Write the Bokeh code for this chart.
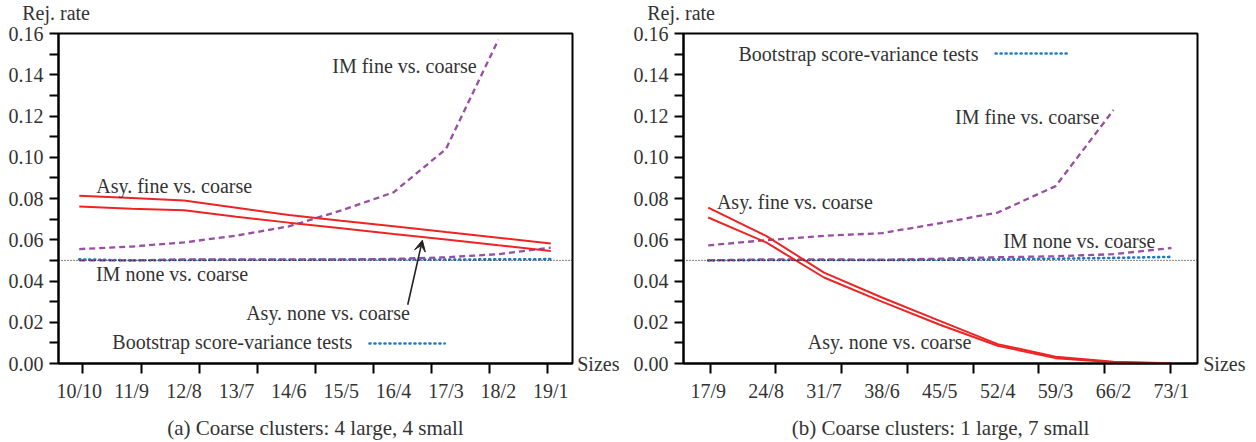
import math
from bokeh.plotting import figure
from bokeh.layouts import row
from bokeh.models import (Range1d, FixedTicker, LinearAxis, Label, Span, Arrow,
                          VeeHead, NumeralTickFormatter)
from bokeh.embed import file_html
from bokeh.resources import INLINE

NAN = float("nan")

# ---------------- data: panel (a) ----------------
sizes_a = ["10/10", "11/9", "12/8", "13/7", "14/6", "15/5", "16/4", "17/3", "18/2", "19/1"]
asy_fine_a = [0.0813, 0.0803, 0.0790, 0.0755, 0.0720, 0.0692, 0.0665, 0.0637, 0.0610, 0.0582]
asy_none_a = [0.0761, 0.0750, 0.0743, 0.0712, 0.0683, 0.0656, 0.0628, 0.0601, 0.0573, 0.0546]
im_fine_a = [0.0555, 0.0567, 0.0587, 0.0620, 0.0665, 0.0742, 0.0830, 0.1040, 0.1570, NAN]
im_none_a = [0.0500, 0.0500, 0.0505, 0.0505, 0.0505, 0.0505, 0.0507, 0.0515, 0.0530, 0.0562]
boot_a = [0.0505, 0.0500, 0.0502, 0.0503, 0.0503, 0.0504, 0.0504, 0.0504, 0.0505, 0.0506]

# ---------------- data: panel (b) ----------------
sizes_b = ["17/9", "24/8", "31/7", "38/6", "45/5", "52/4", "59/3", "66/2", "73/1"]
asy_fine_b = [0.0756, 0.0619, 0.0441, 0.0320, 0.0207, 0.0094, 0.0033, 0.0008, 0.0001]
asy_none_b = [0.0708, 0.0587, 0.0417, 0.0300, 0.0188, 0.0086, 0.0026, 0.0006, 0.0000]
im_fine_b = [0.0573, 0.0598, 0.0619, 0.0632, 0.0680, 0.0732, 0.0860, 0.1229, NAN]
im_none_b = [0.0500, 0.0505, 0.0505, 0.0503, 0.0508, 0.0515, 0.0520, 0.0530, 0.0560]
boot_b = [0.0500, 0.0502, 0.0502, 0.0502, 0.0503, 0.0505, 0.0508, 0.0512, 0.0517]

y_ticks = [0.00, 0.02, 0.04, 0.06, 0.08, 0.10, 0.12, 0.14, 0.16]
y_minor = [0.01, 0.03, 0.05, 0.07, 0.09, 0.11, 0.13, 0.15]

RED = "#ee2424"
PURPLE = "#984ea3"
BLUE = "#1f7ac6"
TXT = "#333333"
FONT = "Liberation Serif"
FS = "20px"
DOT = "1 4"


def lab(p, text, x, y, align="left"):
    p.add_layout(Label(x=x, y=y, text=text, text_font=FONT, text_font_size=FS,
                       text_color=TXT, text_baseline="middle", text_align=align))


def side_lab(p, text, cx, cy, side):
    p.add_layout(Label(x=cx, y=cy, x_units="canvas", y_units="canvas", text=text,
                       text_font=FONT, text_font_size=FS, text_color=TXT,
                       text_baseline="middle", text_align="left"), side)


def panel(sizes, afine, anone, ifine, inone, boot, caption, xr, tick_pos,
          mb_left, mb_right):
    n = len(sizes)
    xs = list(range(n))
    p = figure(width=628, height=442, output_backend="svg", toolbar_location=None,
               x_range=Range1d(*xr), y_range=Range1d(0, 0.16),
               min_border_left=mb_left, min_border_right=mb_right,
               min_border_top=33, min_border_bottom=79)
    p.xgrid.visible = False
    p.ygrid.visible = False
    p.outline_line_color = "black"
    p.outline_line_width = 2

    # y axis
    ya = p.yaxis[0]
    ya.ticker = FixedTicker(ticks=y_ticks, minor_ticks=y_minor)
    ya.formatter = NumeralTickFormatter(format="0.00")
    ya.axis_line_width = 2
    ya.major_tick_line_width = 2
    ya.minor_tick_line_width = 2
    ya.major_tick_out = 9
    ya.minor_tick_out = 9
    ya.major_tick_in = 0
    ya.minor_tick_in = 0
    ya.major_label_standoff = 6
    ya.major_label_text_font = FONT
    ya.major_label_text_font_size = FS
    ya.major_label_text_color = TXT

    # x axis: tick marks only
    xa = p.xaxis[0]
    xa.ticker = FixedTicker(ticks=tick_pos, minor_ticks=[])
    xa.axis_line_width = 2
    xa.major_tick_line_width = 2
    xa.major_tick_out = 10
    xa.major_tick_in = 0
    xa.major_label_text_font_size = "1px"
    xa.major_label_text_alpha = 0
    xa.major_label_standoff = 0

    # x axis: labels only
    xl = LinearAxis(ticker=FixedTicker(ticks=xs, minor_ticks=[]),
                    major_label_overrides={i: s for i, s in enumerate(sizes)},
                    axis_line_color=None, major_tick_line_color=None,
                    minor_tick_line_color=None, major_tick_out=0, major_tick_in=0,
                    major_label_standoff=6, major_label_text_font=FONT,
                    major_label_text_font_size=FS, major_label_text_color=TXT,
                    axis_label=caption, axis_label_text_font=FONT,
                    axis_label_text_font_size="21px", axis_label_text_color=TXT,
                    axis_label_text_font_style="normal", axis_label_standoff=11)
    p.add_layout(xl, "below")

    p.add_layout(Span(location=0.05, dimension="width", line_color="black",
                      line_width=1, line_dash="1 2"))

    p.line(xs, boot, line_color=BLUE, line_width=2.6, line_dash=DOT, line_cap="round")
    p.line(xs, inone, line_color=PURPLE, line_width=2.3, line_dash="6 4")
    p.line(xs, ifine, line_color=PURPLE, line_width=2.3, line_dash="6 4")
    p.line(xs, afine, line_color=RED, line_width=2)
    p.line(xs, anone, line_color=RED, line_width=2)
    return p


# ---------- panel (a) ----------
pa = panel(sizes_a, asy_fine_a, asy_none_a, im_fine_a, im_none_a, boot_a,
           "(a) Coarse clusters: 4 large, 4 small", (-0.396, 9.415),
           [0.071 + 1.1085 * k for k in range(9)], 58, 56)
side_lab(pa, "Rej. rate", 21.7, 12, "above")
side_lab(pa, "Sizes", 576.7, 363, "right")
lab(pa, "Asy. fine vs. coarse", 0.325, 0.0862)
lab(pa, "IM fine vs. coarse", 4.829, 0.1443)
lab(pa, "IM none vs. coarse", 0.319, 0.0433)
lab(pa, "Asy. none vs. coarse", 3.186, 0.0247)
lab(pa, "Bootstrap score-variance tests", 0.631, 0.0102)
pa.line([5.54, 6.975], [0.0097, 0.0097], line_color=BLUE, line_width=2.6,
        line_dash=DOT, line_cap="round")
pa.add_layout(Arrow(end=VeeHead(size=11, fill_color="#222222", line_color="#222222"),
                    x_start=6.27, y_start=0.0285, x_end=6.55, y_end=0.0598,
                    line_color="#222222", line_width=1.6))

# ---------- panel (b) ----------
pb = panel(sizes_b, asy_fine_b, asy_none_b, im_fine_b, im_none_b, boot_b,
           "(b) Coarse clusters: 1 large, 7 small", (-0.427, 8.451),
           [0.035 + 1.135 * k for k in range(8)], 55, 59)
side_lab(pb, "Rej. rate", 18.7, 12, "above")
side_lab(pb, "Sizes", 574.7, 363, "right")
lab(pb, "Bootstrap score-variance tests", 0.523, 0.1500)
pb.line([4.964, 6.234], [0.1503, 0.1503], line_color=BLUE, line_width=2.6,
        line_dash=DOT, line_cap="round")
lab(pb, "IM fine vs. coarse", 4.262, 0.1193)
lab(pb, "Asy. fine vs. coarse", 0.150, 0.0781)
lab(pb, "IM none vs. coarse", 5.095, 0.0595)
lab(pb, "Asy. none vs. coarse", 1.720, 0.0102)

layout = row(pa, pb)
open("out.html", "w").write(file_html(layout, INLINE))
